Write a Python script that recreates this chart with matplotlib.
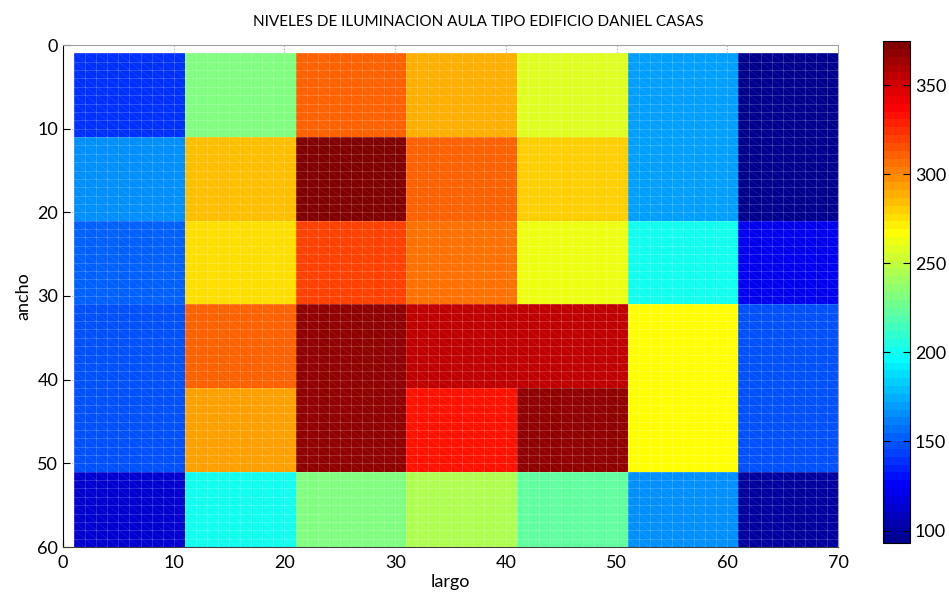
import numpy as np
import matplotlib
matplotlib.use("Agg")
import matplotlib.pyplot as plt
from matplotlib.collections import LineCollection
from matplotlib.colors import ListedColormap

plt.rcParams['font.family'] = ['Lato', 'DejaVu Sans']

# cell edges (largo / ancho)
x_edges = [1, 11, 21, 31, 41, 51, 61, 70]
y_edges = [1, 11, 21, 31, 41, 51, 60]

# illumination levels, rows top->bottom (ancho), columns left->right (largo)
row1 = [140, 233, 311, 291, 256, 170, 93]
row2 = [165, 283, 374.7, 313, 280, 168, 96]
row3 = [153, 274, 320, 306, 263, 200, 121]
row4 = [150, 311, 368, 354, 354, 268, 150]
row5 = [146, 292, 366, 332, 366, 269, 148]
row6 = [114, 203, 231, 247, 222, 167, 98]

x_ticks = [0, 10, 20, 30, 40, 50, 60, 70]
y_ticks = [0, 10, 20, 30, 40, 50, 60]
cb_ticks = [100, 150, 200, 250, 300, 350]

title = "NIVELES DE ILUMINACION AULA TIPO EDIFICIO DANIEL CASAS"

Z = np.array([row1, row2, row3, row4, row5, row6])


def matlab_jet(m=64):
    n = int(np.ceil(m / 4))
    u = np.concatenate([np.arange(1, n + 1) / n, np.ones(n - 1), np.arange(n, 0, -1) / n])
    g = int(np.ceil(n / 2)) - (1 if m % 4 == 1 else 0) + np.arange(1, len(u) + 1)
    r = g + n
    b = g - n
    J = np.zeros((m, 3))
    for idx, col in ((r, 0), (g, 1), (b, 2)):
        ok = (idx >= 1) & (idx <= m)
        J[idx[ok] - 1, col] = u[ok]
    return ListedColormap(J)


W, H = 949, 597
fig = plt.figure(figsize=(W / 100, H / 100), dpi=100)
ax = fig.add_axes([63 / W, 1 - 547 / H, (838 - 63) / W, (547 - 45) / H])
cax = fig.add_axes([883 / W, 1 - 543 / H, (910 - 883) / W, (543 - 41) / H])

cmap = matlab_jet(64)
vmin, vmax = Z.min(), Z.max()

# grid under the surface
ax.set_axisbelow(True)
ax.grid(True, color='#b0b0b0', linestyle=':', linewidth=0.8)

mesh = ax.pcolormesh(x_edges, y_edges, Z, cmap=cmap, vmin=vmin, vmax=vmax,
                     shading='flat', zorder=2)

# faceted mesh lines (1-unit grid with diagonals)
xs = np.arange(x_edges[0], x_edges[-1] + 1)
ys = np.arange(y_edges[0], y_edges[-1] + 1)
lines = []
for xv in xs:
    lines.append([(xv, ys[0]), (xv, ys[-1])])
for yv in ys:
    lines.append([(xs[0], yv), (xs[-1], yv)])
ax.add_collection(LineCollection(lines, colors='white', linewidths=0.6,
                                 alpha=0.2, zorder=3))
diag = []
for xv in xs[:-1]:
    for yv in ys[:-1]:
        diag.append([(xv, yv), (xv + 1, yv + 1)])
ax.add_collection(LineCollection(diag, colors='white', linewidths=0.5,
                                 alpha=0.2, linestyles=(0, (1.5, 1.5)), zorder=3))

ax.set_xlim(0, 70)
ax.set_ylim(60, 0)
ax.set_xticks(x_ticks)
ax.set_yticks(y_ticks)
ax.tick_params(direction='in', length=5, labelsize=13, colors='black', width=0.8)
ax.tick_params(axis='x', pad=6)
for s in ['top', 'right']:
    ax.spines[s].set_color('#a0a0a0')
ax.spines['left'].set_color('black')
ax.spines['bottom'].set_color('#404040')
ax.set_xlabel('largo', fontsize=13, labelpad=2)
ax.set_ylabel('ancho', fontsize=13, labelpad=4)
ax.set_title(title, fontsize=11, pad=14, x=(478 - 63) / (838 - 63))

cb = fig.colorbar(mesh, cax=cax, ticks=cb_ticks)
cb.ax.tick_params(direction='in', length=5, labelsize=13, left=True, right=True,
                  width=0.8)
cb.outline.set_linewidth(0.8)

fig.savefig('out.png', dpi=100)
